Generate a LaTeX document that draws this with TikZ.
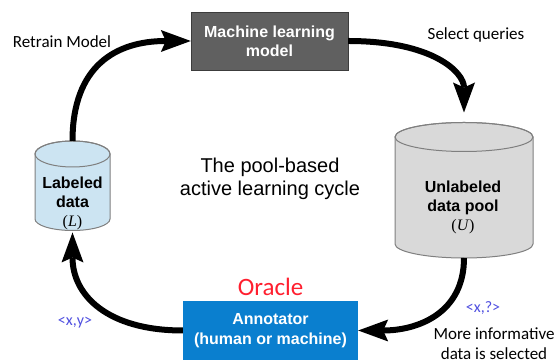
\documentclass[tikz,border=0pt]{standalone}
\usepackage{fontspec}
\setmainfont{Liberation Sans}
\newfontfamily\calibri{Carlito}
\newfontfamily\timesfont{Liberation Serif}
\usetikzlibrary{arrows.meta,positioning}
\definecolor{modelGray}{HTML}{606060}
\definecolor{modelEdge}{HTML}{3C3C3C}
\definecolor{oracleBlue}{HTML}{0A7FCF}
\definecolor{oracleRed}{HTML}{FF1F2F}
\definecolor{poolGray}{HTML}{D9D9D9}
\definecolor{labeledBlue}{HTML}{CCE4F2}
\definecolor{storeEdge}{HTML}{7F7F7F}
\definecolor{pairBlue}{HTML}{4F4FE0}
\tikzset{
  model box/.style={
    draw=modelEdge,
    fill=modelGray,
    text=white,
    font=\bfseries\fontsize{16}{19}\selectfont,
    align=center,
    minimum width=157pt,
    minimum height=58pt,
    inner sep=0pt
  },
  annotator box/.style={
    model box,
    draw=none,
    fill=oracleBlue,
    minimum width=175pt,
    minimum height=59pt,
    font=\bfseries\fontsize{16}{20}\selectfont
  },
  store body/.style={
    draw=storeEdge,
    line width=1pt
  },
  store anchor/.style={
    inner sep=0pt,
    outer sep=0pt
  },
  store label/.style={
    font=\bfseries\fontsize{16}{19}\selectfont,
    align=center
  },
  step note/.style={
    font=\calibri\fontsize{17}{20}\selectfont,
    align=center
  },
  pair note/.style={
    font=\calibri\fontsize{16}{18}\selectfont,
    text=pairBlue
  },
  cycle title/.style={
    font=\fontsize{20}{23}\selectfont,
    align=center
  },
  cycle edge/.style={
    -{Stealth[length=30pt,width=22pt,inset=5pt,line width=0pt]},
    line width=6pt
  }
}

\begin{document}
\begin{tikzpicture}[x=1pt,y=1pt]
  \useasboundingbox (0,0) rectangle (560,363);

  \node[model box] (model) at (269.5,322) {Machine learning\\model};
  \node[annotator box] (annotator) at (270.5,32.5) {Annotator\\(human or machine)};
  \node[font=\calibri\fontsize{25}{28}\selectfont,text=oracleRed,above=2pt of annotator] (oracle) {Oracle};

  % unlabeled pool
  \draw[store body,fill=poolGray] (395,226) -- (395,119) arc (180:360:69 and 14)
    -- (533,226) arc (0:180:69 and 14.5) -- cycle;
  \draw[store body] (464,226) ellipse (69 and 14.5);
  \node[store anchor,minimum width=138pt,minimum height=135.5pt] (pool) at (464,172.75) {};
  \node[store label] (pooltext) at (463,156) {Unlabeled\\data pool\\{\timesfont\mdseries(\textit{U})}};

  % labeled data
  \draw[store body,fill=labeledBlue] (35,209) -- (35,144) arc (180:360:37.5 and 11.5)
    -- (110,209) arc (0:180:37.5 and 13) -- cycle;
  \draw[store body] (72.5,209) ellipse (37.5 and 13);
  \node[store anchor,minimum width=75pt,minimum height=89.5pt] (labeled) at (72.5,177.25) {};
  \node[store label] (labeledtext) at (72.5,160) {Labeled\\data\\{\timesfont\mdseries(\textit{L})}};

  \node[cycle title] (title) at (270,184.5) {The pool-based\\active learning cycle};

  \node[step note] (retrain) at (62,321) {Retrain Model};
  \node[step note] (select) at (476,328) {Select queries};
  \node[step note] (informative) at (494,19) {More informative\\data is selected};
  \node[pair note] (xq) at (483,55) {<x,?>};
  \node[pair note] (xy) at (75,40) {<x,y>};

  \draw[cycle edge] (labeled.north) .. controls +(0,75) and +(-75,0) .. (model.west);
  \draw[cycle edge,shorten >=10pt] (model.east) .. controls +(85,0) and +(0,50) .. (pool.north);
  \draw[cycle edge] (pool.south) .. controls +(0,-55) and +(60,0) .. (annotator.east);
  \draw[cycle edge,shorten >=2pt] (annotator.west) .. controls +(-75,0) and +(0,-65) .. (labeled.south);
\end{tikzpicture}
\end{document}
